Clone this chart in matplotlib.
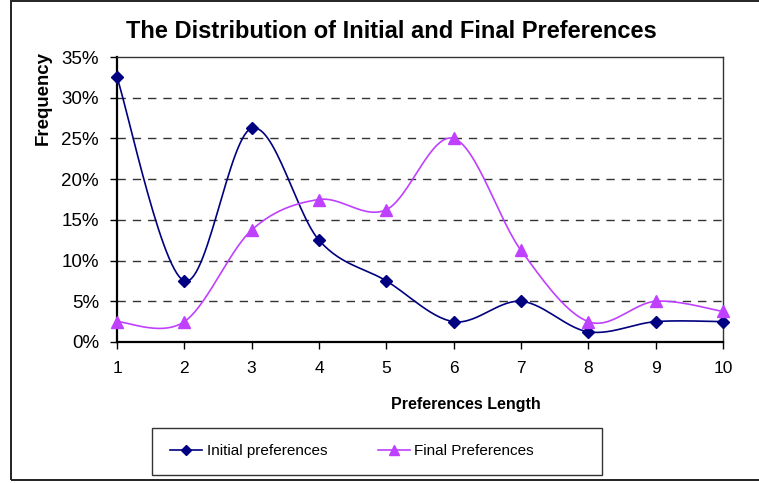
import numpy as np
import matplotlib
matplotlib.use("Agg")
import matplotlib.pyplot as plt
from matplotlib.patches import Rectangle
from matplotlib.lines import Line2D

plt.rcParams["font.family"] = ["Liberation Sans", "DejaVu Sans"]

# ── Data ─────────────────────────────────────────────────────────
lengths = [1, 2, 3, 4, 5, 6, 7, 8, 9, 10]
initial_pct = [32.5, 7.5, 26.25, 12.5, 7.5, 2.5, 5.0, 1.25, 2.5, 2.5]
final_pct = [2.5, 2.5, 13.75, 17.5, 16.25, 25.0, 11.25, 2.5, 5.0, 3.75]
y_ticks = [0, 5, 10, 15, 20, 25, 30, 35]

W, H = 759, 483
NAVY = "#000080"
VIOLET = "#BF40FF"


def smooth_curve(xs, ys, steps=30):
    """Bezier smoothing through every point (spreadsheet-style smoothed line)."""
    pts = np.column_stack([xs, ys]).astype(float)
    n = len(pts)
    out = []
    t = np.linspace(0, 1, steps)[:, None]
    for i in range(n - 1):
        p0, p3 = pts[i], pts[i + 1]
        prev = pts[i - 1] if i > 0 else p0
        nxt = pts[i + 2] if i + 2 < n else p3
        p1 = p0 + (p3 - prev) / 6.0
        p2 = p3 - (nxt - p0) / 6.0
        seg = ((1 - t) ** 3) * p0 + 3 * ((1 - t) ** 2) * t * p1 \
            + 3 * (1 - t) * t ** 2 * p2 + t ** 3 * p3
        out.append(seg if i == 0 else seg[1:])
    seg = np.vstack(out)
    return seg[:, 0], seg[:, 1]


def fx(px):
    return px / W


def fy(py):
    return 1 - py / H


fig = plt.figure(figsize=(W / 100, H / 100), dpi=100)
fig.patch.set_facecolor("white")

# outer chart frame
fig.patches.append(Rectangle((fx(11), fy(480)), 1.2, fy(0.5) - fy(480),
                             transform=fig.transFigure, fill=False,
                             edgecolor="#222222", linewidth=1.4))

ax = fig.add_axes([fx(117), fy(342), fx(723) - fx(117), fy(57) - fy(342)])

# ── Series ───────────────────────────────────────────────────────
sx, sy = smooth_curve(lengths, initial_pct)
ax.plot(sx, sy, color=NAVY, linewidth=1.2, clip_on=False, zorder=3)
ax.plot(lengths, initial_pct, linestyle="none", marker="D", markersize=6,
        color=NAVY, clip_on=False, zorder=4)

sx, sy = smooth_curve(lengths, final_pct)
ax.plot(sx, sy, color=VIOLET, linewidth=1.2, clip_on=False, zorder=3)
ax.plot(lengths, final_pct, linestyle="none", marker="^", markersize=8,
        color=VIOLET, clip_on=False, zorder=4)

# ── Axes styling ─────────────────────────────────────────────────
ax.set_xlim(1, 10)
ax.set_ylim(0, 35)
ax.set_xticks(lengths)
ax.set_yticks(y_ticks)
ax.set_yticklabels([f"{v}%" for v in y_ticks])
ax.tick_params(axis="both", direction="out", length=5, width=1, color="black")
ax.tick_params(axis="x", pad=9, labelsize=12.5)
ax.tick_params(axis="y", pad=8, labelsize=13.5)

for yv in y_ticks[1:-1]:
    ax.axhline(yv, color="#333333", linewidth=1, linestyle=(0, (6, 5)), zorder=1)

ax.spines["left"].set_linewidth(1.6)
ax.spines["bottom"].set_linewidth(1.6)
ax.spines["top"].set_linewidth(1)
ax.spines["right"].set_linewidth(1)
ax.spines["top"].set_color("#333333")
ax.spines["right"].set_color("#333333")

fig.text(fx(391), fy(31), "The Distribution of Initial and Final Preferences",
         ha="center", va="center", fontsize=17, fontweight="bold")
fig.text(fx(43), fy(98), "Frequency", ha="center", va="center",
         rotation=90, fontsize=13.4, fontweight="bold")
fig.text(fx(466), fy(405), "Preferences Length", ha="center", va="center",
         fontsize=11.5, fontweight="bold")

# ── Legend ───────────────────────────────────────────────────────
fig.patches.append(Rectangle((fx(152), fy(475)), fx(602) - fx(152),
                             fy(428) - fy(475), transform=fig.transFigure,
                             fill=False, edgecolor="#333333", linewidth=1))
handles = [
    Line2D([], [], color=NAVY, marker="D", markersize=5, linewidth=1.2),
    Line2D([], [], color=VIOLET, marker="^", markersize=7, linewidth=1.2),
]
fig.legend(handles, ["Initial preferences", "Final Preferences"],
           loc="center left", bbox_to_anchor=(fx(170), fy(451)), ncol=2,
           fontsize=11, frameon=False,
           handlelength=2.1, handletextpad=0.3, columnspacing=3.3,
           borderpad=0, borderaxespad=0)

fig.savefig("out.png", dpi=100)
